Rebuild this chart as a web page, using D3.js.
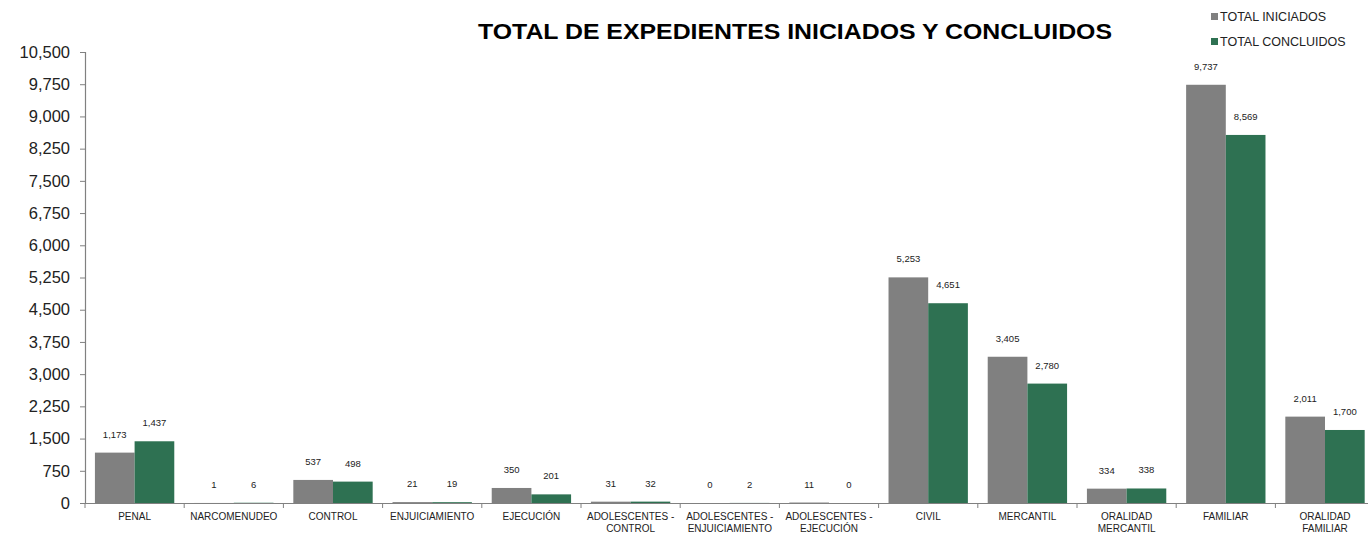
<!DOCTYPE html>
<html><head><meta charset="utf-8">
<script src="https://cdn.jsdelivr.net/npm/d3@7"></script>
<style>body{margin:0;background:#fff;} text{font-family:"Liberation Sans",Arial,sans-serif;}</style>
</head><body><svg id="c" width="1368" height="533"></svg>
<script>
const categories = ["PENAL","NARCOMENUDEO","CONTROL","ENJUICIAMIENTO","EJECUCIÓN","ADOLESCENTES - CONTROL","ADOLESCENTES - ENJUICIAMIENTO","ADOLESCENTES - EJECUCIÓN","CIVIL","MERCANTIL","ORALIDAD MERCANTIL","FAMILIAR","ORALIDAD FAMILIAR"];
const categoryLines = [["PENAL"],["NARCOMENUDEO"],["CONTROL"],["ENJUICIAMIENTO"],["EJECUCIÓN"],["ADOLESCENTES -","CONTROL"],["ADOLESCENTES -","ENJUICIAMIENTO"],["ADOLESCENTES -","EJECUCIÓN"],["CIVIL"],["MERCANTIL"],["ORALIDAD","MERCANTIL"],["FAMILIAR"],["ORALIDAD","FAMILIAR"]];
const seriesNames = ["TOTAL INICIADOS","TOTAL CONCLUIDOS"];
const iniciados = [1173,1,537,21,350,31,0,11,5253,3405,334,9737,2011];
const concluidos = [1437,6,498,19,201,32,2,0,4651,2780,338,8569,1700];
const yTicks = [0,750,1500,2250,3000,3750,4500,5250,6000,6750,7500,8250,9000,9750,10500];
const colors = ["#808080","#2E7152"];

const svg = d3.select("#c");
const left = 85, bw = 99.2, y0 = 503, yTop = 52;
const x = d3.scaleBand().domain(categories).range([left, left + bw*categories.length]).padding(0);
const x1 = d3.scaleBand().domain(seriesNames).range([x.bandwidth()*0.1, x.bandwidth()*0.9]).padding(0);
const y = d3.scaleLinear().domain([0,10500]).range([y0, yTop]);
const fmt = d3.format(",");

// y axis
const yAxis = d3.axisLeft(y).tickValues(yTicks).tickSize(5).tickPadding(10).tickFormat(fmt);
const gy = svg.append("g").attr("transform",`translate(${left},0)`).call(yAxis);
gy.select(".domain").attr("stroke","#808080").attr("stroke-width",1.2);
gy.selectAll(".tick line").attr("stroke","#808080");
gy.selectAll(".tick text").attr("font-size",16.5).attr("fill","#222").attr("font-family","Liberation Sans, Arial, sans-serif");

// bars
const data = categories.map((c,i)=>({c, vals:[iniciados[i],concluidos[i]]}));
const groups = svg.append("g").selectAll("g").data(data).join("g").attr("transform",d=>`translate(${x(d.c)},0)`);
groups.selectAll("rect").data(d=>d.vals.map((v,j)=>({s:seriesNames[j],v,j}))).join("rect")
  .attr("x",d=>x1(d.s)).attr("width",x1.bandwidth())
  .attr("y",d=>y(d.v)).attr("height",d=>y0-y(d.v))
  .attr("fill",d=>colors[d.j]);
groups.selectAll("text.lbl").data(d=>d.vals.map((v,j)=>({s:seriesNames[j],v,j}))).join("text").attr("class","lbl")
  .attr("x",d=>x1(d.s)+x1.bandwidth()/2).attr("y",d=>y(d.v)-15)
  .attr("text-anchor","middle").attr("font-size",9.5).attr("fill","#222").text(d=>fmt(d.v));

// x axis
const xAxis = d3.axisBottom(x).tickSize(0).tickFormat("");
const gx = svg.append("g").attr("transform",`translate(0,${y0})`).call(xAxis);
gx.select(".domain").attr("stroke","#808080").attr("stroke-width",1.2);
const bounds = categories.map(c=>x(c)).concat([x.range()[1]]);
svg.append("g").selectAll("line").data(bounds).join("line")
  .attr("x1",d=>d).attr("x2",d=>d).attr("y1",y0).attr("y2",y0+5).attr("stroke","#808080");
const xl = svg.append("g").selectAll("text").data(categories).join("text")
  .attr("x",c=>x(c)+x.bandwidth()/2).attr("y",520)
  .attr("text-anchor","middle").attr("font-size",10).attr("fill","#222");
xl.each(function(c,i){
  const t = d3.select(this);
  categoryLines[i].forEach((ln,k)=>t.append("tspan").attr("x",x(c)+x.bandwidth()/2).attr("dy",k?12:0).text(ln));
});

// title
svg.append("text").attr("x",795).attr("y",39).attr("text-anchor","middle")
  .attr("font-size",22).attr("font-weight","bold").attr("fill","#000")
  .attr("textLength",634).attr("lengthAdjust","spacingAndGlyphs")
  .text("TOTAL DE EXPEDIENTES INICIADOS Y CONCLUIDOS");

// legend
const lg = svg.append("g").selectAll("g").data(seriesNames).join("g")
  .attr("transform",(d,i)=>`translate(1211,${12+i*25})`);
lg.append("rect").attr("width",7).attr("height",7).attr("y",1).attr("fill",(d,i)=>colors[i]);
lg.append("text").attr("x",9).attr("y",8.5).attr("font-size",12.5).attr("fill","#222").text(d=>d);
</script></body></html>
